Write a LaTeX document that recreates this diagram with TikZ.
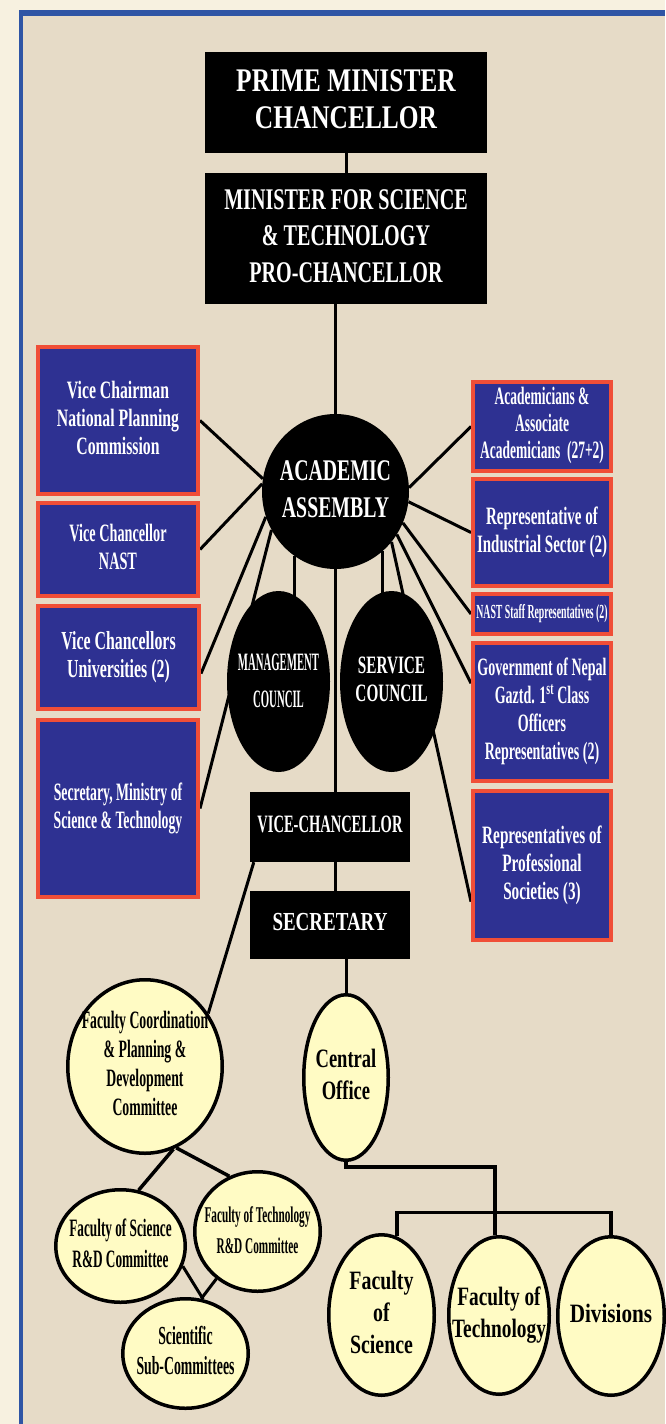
\documentclass[tikz,border=0pt]{standalone}
\usepackage{fontspec}
\setmainfont{Liberation Serif}
\usepackage{graphicx}
\usetikzlibrary{shapes.geometric}

\definecolor{paper}{HTML}{F7F1E0}
\definecolor{panel}{HTML}{E6DBC7}
\definecolor{frameblue}{HTML}{2F55A5}
\definecolor{boxblue}{HTML}{2E3192}
\definecolor{boxred}{HTML}{F04E37}
\definecolor{ovalyellow}{HTML}{FFFBC4}

\pgfdeclarelayer{panel}
\pgfdeclarelayer{lines}
\pgfsetlayers{panel,lines,main}

\newcommand{\cnd}[2][0.7]{\scalebox{#1}[1]{\begin{tabular}{@{}c@{}}#2\end{tabular}}}

\tikzset{
  blackbox/.style={rectangle, fill=black, text=white, inner sep=0pt},
  bluebox/.style={rectangle, fill=boxblue, draw=boxred, line width=4pt, text=white, inner sep=0pt, font=\fontsize{25}{28}\selectfont\bfseries},
  blackoval/.style={ellipse, fill=black, text=white, inner sep=-60pt},
  yellowoval/.style={ellipse, fill=ovalyellow, draw=black, line width=3.5pt, inner sep=-60pt},
  link/.style={line width=3pt},
  thicklink/.style={line width=3.5pt}
}

\begin{document}
\begin{tikzpicture}[x=1pt, y=-1pt]

\useasboundingbox (0,0) rectangle (665,1424);

%Draw panel
\begin{pgfonlayer}{panel}
\fill[paper] (0,0) rectangle (665,1424);
\fill[panel] (19,9.5) rectangle (665,1424);
\fill[frameblue] (19,9.5) rectangle (665,15.5);
\fill[frameblue] (19,9.5) rectangle (23,1424);
\end{pgfonlayer}

%Draw top boxes
\node[blackbox, minimum width=282pt, minimum height=101pt, font=\fontsize{33}{37}\selectfont\bfseries] (pm) at (346,102.5) {\cnd[0.77]{PRIME MINISTER\\CHANCELLOR}};
\node[blackbox, minimum width=282pt, minimum height=131pt, font=\fontsize{30}{36.5}\selectfont\bfseries] (minister) at (346,238.5) {\cnd[0.67]{MINISTER FOR SCIENCE\\\& TECHNOLOGY\\PRO-CHANCELLOR}};
\node[blackoval, minimum width=147pt, minimum height=155pt, font=\fontsize{30}{37}\selectfont\bfseries] (assembly) at (335.5,491.5) {\cnd[0.66]{ACADEMIC\\ASSEMBLY}};

%Draw left members
\node[bluebox, minimum width=160pt, minimum height=147pt] (vcnpc) at (118,420.5) {\cnd[0.63]{Vice Chairman\\National Planning\\Commission}};
\node[bluebox, minimum width=160pt, minimum height=93pt] (vcnast) at (118,549.5) {\cnd[0.57]{Vice Chancellor\\NAST}};
\node[bluebox, minimum width=161pt, minimum height=103pt, font=\fontsize{26}{28}\selectfont\bfseries] (vcuni) at (118.5,657.5) {\cnd[0.61]{Vice Chancellors\\Universities (2)}};
\node[bluebox, minimum width=160pt, minimum height=177pt] (secmost) at (118,808.5) {\cnd[0.55]{Secretary, Ministry of\\Science \& Technology}};

%Draw right members
\node[bluebox, minimum width=138pt, minimum height=89pt, font=\fontsize{25}{27}\selectfont\bfseries] (acad) at (542,426.5) {\cnd[0.54]{Academicians \&\\Associate\\Academicians~~(27+2)}};
\node[bluebox, minimum width=138pt, minimum height=107pt] (indus) at (542,532.5) {\cnd[0.60]{Representative of\\Industrial Sector (2)}};
\node[bluebox, minimum width=138pt, minimum height=40pt, font=\fontsize{20}{20}\selectfont\bfseries] (naststaff) at (542,614) {\cnd[0.49]{NAST Staff Representatives (2)}};
\node[bluebox, minimum width=138pt, minimum height=138pt] (gov) at (542,712) {\cnd[0.56]{Government of Nepal\\Gaztd. 1\textsuperscript{st} Class\\Officers\\Representatives (2)}};
\node[bluebox, minimum width=138pt, minimum height=149pt] (prof) at (542,865.5) {\cnd[0.61]{Representatives of\\Professional\\Societies (3)}};

%Draw councils and officers
\node[blackoval, minimum width=103pt, minimum height=181pt, font=\fontsize{25}{37}\selectfont\bfseries] (mgmt) at (278.5,681.5) {\cnd[0.43]{MANAGEMENT\\COUNCIL}};
\node[blackoval, minimum width=103pt, minimum height=181pt, font=\fontsize{25}{28}\selectfont\bfseries] (service) at (391.5,681.5) {\cnd[0.61]{SERVICE\\COUNCIL}};
\node[blackbox, minimum width=160pt, minimum height=70pt, font=\fontsize{25}{28}\selectfont\bfseries] (vc) at (330,827) {\cnd[0.58]{VICE-CHANCELLOR}};
\node[blackbox, minimum width=160pt, minimum height=68pt, font=\fontsize{26}{28}\selectfont\bfseries] (sec) at (330,925) {\cnd[0.73]{SECRETARY}};

%Draw committees
\node[yellowoval, minimum width=154.5pt, minimum height=173.5pt, font=\fontsize{25}{29}\selectfont\bfseries] (fcc) at (145,1066.5) {\cnd[0.55]{Faculty Coordination\\\& Planning \&\\Development\\Committee}};
\node[yellowoval, minimum width=84.5pt, minimum height=165.5pt, font=\fontsize{26.5}{32}\selectfont\bfseries] (co) at (346,1077.5) {\cnd[0.70]{Central\\Office}};
\node[yellowoval, minimum width=129.5pt, minimum height=112.5pt, font=\fontsize{25}{31}\selectfont\bfseries] (fsrd) at (120.5,1246) {\cnd[0.53]{Faculty of Science\\R\&D Committee}};
\node[yellowoval, minimum width=125.5pt, minimum height=119.5pt, font=\fontsize{22.5}{31}\selectfont\bfseries] (ftrd) at (257.5,1231.5) {\cnd[0.50]{Faculty of Technology\\R\&D Committee}};
\node[yellowoval, minimum width=125.5pt, minimum height=109.5pt, font=\fontsize{26}{30}\selectfont\bfseries] (ssc) at (185.5,1353.5) {\cnd[0.53]{Scientific\\Sub-Committees}};
\node[yellowoval, minimum width=105.5pt, minimum height=160.5pt, font=\fontsize{26.5}{32}\selectfont\bfseries] (fsci) at (381.5,1315) {\cnd[0.75]{Faculty\\of\\Science}};
\node[yellowoval, minimum width=100.5pt, minimum height=157.5pt, font=\fontsize{26.5}{32}\selectfont\bfseries] (ftech) at (499,1315.5) {\cnd[0.73]{Faculty of\\Technology}};
\node[yellowoval, minimum width=106.5pt, minimum height=158.5pt, font=\fontsize{26.5}{32}\selectfont\bfseries] (div) at (611,1316) {\cnd[0.8]{Divisions}};

%Draw connectors
\begin{pgfonlayer}{lines}
\draw[link] (pm) -- (minister);
\draw[link] (assembly.north) -- (assembly.north |- minister.south);
\draw[link] (assembly.170) -- (vcnpc.east);
\draw[link] (assembly.174) -- (vcnast.east);
\draw[link] (assembly.200) -- (vcuni.-11);
\draw[link] (assembly.211) -- (secmost.east);
\draw[link] (assembly.3) -- (acad.west);
\draw[link] (assembly.-8) -- (indus.west);
\draw[link] (assembly.-25) -- (naststaff.west);
\draw[link] (assembly.-35) -- (gov.158);
\draw[link] (assembly.-42) -- (prof.207);
\draw[link] (assembly.-122) -- (assembly.-122 |- mgmt.center);
\draw[link] (assembly.-52) -- (assembly.-52 |- service.center);
\draw[link] (assembly.south) -- (assembly.south |- vc.north);
\draw[link] (assembly.south |- vc.south) -- (assembly.south |- sec.north);
\draw[link] ([xshift=4pt]vc.south west) -- (fcc.40);
\draw[link] (co.north |- sec.south) -- (co.north);
\draw[thicklink] (fcc.-71) -- (fsrd.72);
\draw[thicklink] (fcc.-69) -- (ftrd.117);
\draw[link] (fsrd.-18) -- (ssc.72);
\draw[link] (ftrd.229) -- (ssc.74);
\draw[thicklink] (co.south) -- ++(0,5) -| (ftech.93);
\draw[thicklink] (fsci.79) -- ++(0,-24) -| (div.north);
\end{pgfonlayer}

\end{tikzpicture}
\end{document}
